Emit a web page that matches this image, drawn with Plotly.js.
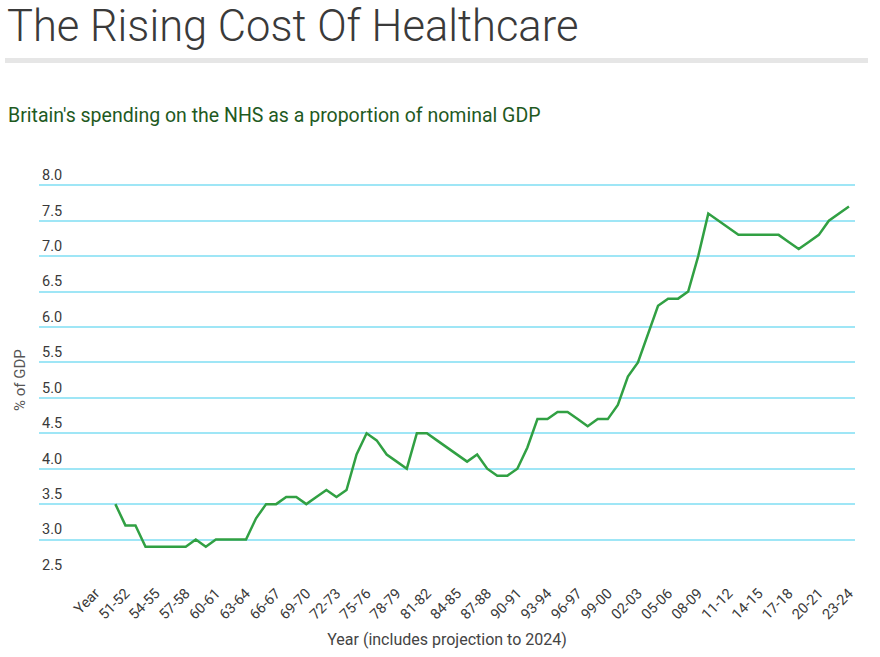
<!DOCTYPE html>
<html>
<head>
<meta charset="utf-8">
<script src="https://cdn.plot.ly/plotly-3.0.1.min.js"></script>
<style>
html,body{margin:0;padding:0;background:#fff;}
#chart{width:880px;height:657px;}
</style>
</head>
<body>
<div id="chart"></div>
<script>
var years = ["Year","49-50","50-51","51-52","52-53","53-54","54-55","55-56","56-57","57-58",
  "58-59","59-60","60-61","61-62","62-63","63-64","64-65","65-66","66-67","67-68",
  "68-69","69-70","70-71","71-72","72-73","73-74","74-75","75-76","76-77","77-78",
  "78-79","79-80","80-81","81-82","82-83","83-84","84-85","85-86","86-87","87-88",
  "88-89","89-90","90-91","91-92","92-93","93-94","94-95","95-96","96-97","97-98",
  "98-99","99-00","00-01","01-02","02-03","03-04","04-05","05-06","06-07","07-08",
  "08-09","09-10","10-11","11-12","12-13","13-14","14-15","15-16","16-17","17-18",
  "18-19","19-20","20-21","21-22","22-23","23-24"];
var spendPctGDP = [null,null,3.5,3.2,3.2,2.9,2.9,2.9,2.9,2.9,
  3.0,2.9,3.0,3.0,3.0,3.0,3.3,3.5,3.5,3.6,
  3.6,3.5,3.6,3.7,3.6,3.7,4.2,4.5,4.4,4.2,
  4.1,4.0,4.5,4.5,4.4,4.3,4.2,4.1,4.2,4.0,
  3.9,3.9,4.0,4.3,4.7,4.7,4.8,4.8,4.7,4.6,
  4.7,4.7,4.9,5.3,5.5,5.9,6.3,6.4,6.4,6.5,
  7.0,7.6,7.5,7.4,7.3,7.3,7.3,7.3,7.3,7.2,
  7.1,7.2,7.3,7.5,7.6,7.7];
var xTickLabels = ["Year","51-52","54-55","57-58","60-61","63-64","66-67","69-70","72-73",
  "75-76","78-79","81-82","84-85","87-88","90-91","93-94","96-97","99-00","02-03",
  "05-06","08-09","11-12","14-15","17-18","20-21","23-24"];
var yTickVals = [2.5,3.0,3.5,4.0,4.5,5.0,5.5,6.0,6.5,7.0,7.5,8.0];
var yTickText = ["2.5","3.0","3.5","4.0","4.5","5.0","5.5","6.0","6.5","7.0","7.5","8.0"];

var trace = {
  x: years,
  y: spendPctGDP,
  type: "scatter",
  mode: "lines",
  connectgaps: false,
  line: {color: "#31a043", width: 2.5},
  hoverinfo: "x+y"
};

// plot area: top at 164 px, bottom at 575 px (8.0 gridline sits at 185 px)
var plotTop = 164, plotBottom = 575, plotLeft = 39, plotRight = 855;
var plotH = plotBottom - plotTop, plotW = plotRight - plotLeft;
function py(px) { return (plotBottom - px) / plotH; }
function pxX(px) { return (px - plotLeft) / plotW; }

var layout = {
  width: 880,
  height: 657,
  paper_bgcolor: "#ffffff",
  plot_bgcolor: "#ffffff",
  margin: {l: plotLeft, r: 880 - plotRight, t: plotTop, b: 657 - plotBottom},
  showlegend: false,
  font: {family: "Roboto, 'Open Sans', sans-serif", color: "#444444"},
  xaxis: {
    type: "category",
    categoryorder: "array",
    categoryarray: years,
    range: [-5.6, 75.6],
    tickmode: "array",
    tickvals: xTickLabels,
    ticktext: xTickLabels,
    tickangle: -45,
    ticklabelstandoff: 6,
    tickfont: {size: 14.5, color: "#3a3a3a"},
    showgrid: false,
    zeroline: false,
    showline: false,
    ticks: "",
    automargin: false,
    title: {
      text: "Year (includes projection to 2024)",
      font: {size: 16, color: "#444444"},
      standoff: 11
    }
  },
  yaxis: {
    range: [2.5, 8.3],
    tickmode: "array",
    tickvals: yTickVals,
    ticktext: yTickText,
    ticklabelposition: "inside top",
    tickfont: {size: 14.5, color: "#3a3a3a"},
    showgrid: true,
    gridcolor: "#9fe6f6",
    gridwidth: 2,
    zeroline: false,
    showline: false,
    ticks: "",
    automargin: false
  },
  shapes: [{
    type: "rect",
    xref: "paper", yref: "paper",
    x0: pxX(5), x1: pxX(868),
    y0: py(63), y1: py(58),
    fillcolor: "#e6e6e6",
    line: {width: 0},
    layer: "below"
  }],
  annotations: [{
    text: "The Rising Cost Of Healthcare",
    xref: "paper", yref: "paper",
    x: pxX(5), xanchor: "left",
    y: py(26), yanchor: "middle",
    showarrow: false,
    font: {family: "Roboto, sans-serif", size: 43.5, color: "#3a3a3a", weight: 300}
  }, {
    text: "Britain's spending on the NHS as a proportion of nominal GDP",
    xref: "paper", yref: "paper",
    x: pxX(6), xanchor: "left",
    y: py(115), yanchor: "middle",
    showarrow: false,
    font: {family: "Roboto, sans-serif", size: 19.5, color: "#1f5a1f"}
  }, {
    text: "% of GDP",
    xref: "paper", yref: "paper",
    x: pxX(20), xanchor: "center",
    y: py(380), yanchor: "middle",
    textangle: -90,
    showarrow: false,
    font: {family: "Roboto, sans-serif", size: 15, color: "#555555"}
  }]
};

Plotly.newPlot("chart", [trace], layout, {displayModeBar: false, staticPlot: true});
</script>
</body>
</html>
